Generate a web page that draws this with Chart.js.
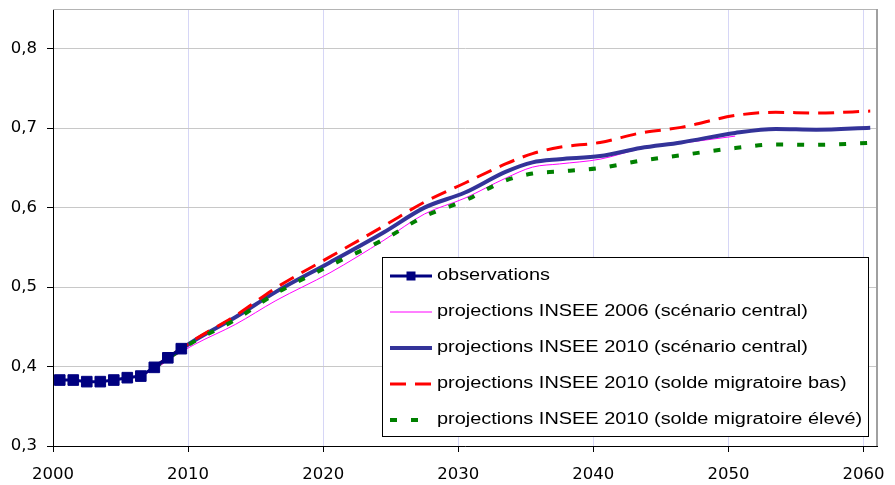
<!DOCTYPE html>
<html>
<head>
<meta charset="utf-8">
<script src="https://cdn.jsdelivr.net/npm/chart.js@4/dist/chart.umd.min.js"></script>
<style>
  html, body { margin: 0; padding: 0; background: #fff; }
  #wrap { width: 895px; height: 485px; position: relative; }
</style>
</head>
<body>
<div id="wrap"><canvas id="c"></canvas></div>
<script>
// Observed values, one per year
const obsYears  = [2000, 2001, 2002, 2003, 2004, 2005, 2006, 2007, 2008, 2009];
const obsValues = [0.383, 0.383, 0.381, 0.381, 0.383, 0.386, 0.388, 0.399, 0.411, 0.4225];

// INSEE 2006 projections (central scenario)
const insee2006Years  = [2005, 2007, 2008, 2010, 2013, 2016, 2020, 2024, 2027, 2030, 2033, 2035, 2037, 2040, 2043, 2046, 2050];
const insee2006Values = [0.384, 0.396, 0.408, 0.428, 0.453, 0.483, 0.518, 0.559, 0.592, 0.612, 0.637, 0.651, 0.655, 0.661, 0.674, 0.681, 0.690];

// INSEE 2010 projections
const insee2010Years         = [2007, 2010, 2013, 2016, 2020, 2024, 2027, 2030, 2033, 2035, 2037, 2040, 2043, 2046, 2050, 2053, 2056, 2060];
const insee2010Central       = [0.399, 0.433, 0.462, 0.494, 0.531, 0.569, 0.600, 0.619, 0.645, 0.657, 0.661, 0.665, 0.675, 0.682, 0.694, 0.699, 0.698, 0.7005];
const insee2010LowMigration  = [0.399, 0.434, 0.464, 0.499, 0.538, 0.577, 0.607, 0.631, 0.655, 0.668, 0.676, 0.682, 0.694, 0.701, 0.716, 0.720, 0.719, 0.7215];
const insee2010HighMigration = [0.399, 0.432, 0.459, 0.492, 0.527, 0.560, 0.589, 0.609, 0.634, 0.643, 0.6455, 0.650, 0.659, 0.666, 0.675, 0.6795, 0.679, 0.6815];

const seriesLabels = [
  'observations',
  'projections INSEE 2006 (scénario central)',
  'projections INSEE 2010 (scénario central)',
  'projections INSEE 2010 (solde migratoire bas)',
  'projections INSEE 2010 (solde migratoire élevé)'
];

const xTickYears  = [2000, 2010, 2020, 2030, 2040, 2050, 2060];
const yTickValues = [0.3, 0.4, 0.5, 0.6, 0.7, 0.8];
const yTickLabels = ['0,3', '0,4', '0,5', '0,6', '0,7', '0,8'];

// each yearly value sits in the middle of its year slot
const toPoints = (years, values) => years.map((yr, i) => ({ x: yr + 0.5, y: values[i] }));

// plot frame (top and right edges) and the boxed legend inside the plot
const framePlugin = {
  id: 'frameAndLegend',
  beforeDatasetsDraw(chart) {
    const { ctx, chartArea: a } = chart;
    ctx.save();
    ctx.strokeStyle = '#b4b4b4';
    ctx.lineWidth = 1;
    ctx.beginPath();
    ctx.moveTo(a.left, a.top + 0.5);
    ctx.lineTo(a.right, a.top + 0.5);
    ctx.stroke();
    ctx.strokeStyle = '#a0a0a0';
    ctx.lineWidth = 2;
    ctx.beginPath();
    ctx.moveTo(a.right, a.top);
    ctx.lineTo(a.right, a.bottom);
    ctx.stroke();
    ctx.restore();
  },
  afterDraw(chart) {
    const { ctx } = chart;
    const box = { x: 382.5, y: 257.5, w: 486, h: 179 };
    ctx.save();
    ctx.fillStyle = '#fff';
    ctx.fillRect(box.x, box.y, box.w, box.h);
    ctx.strokeStyle = '#000';
    ctx.lineWidth = 1;
    ctx.strokeRect(box.x, box.y, box.w, box.h);

    const rowH = 36, firstY = 276, symX0 = 390, symX1 = 432, textX = 437;
    chart.data.datasets.forEach((ds, i) => {
      const cy = firstY + i * rowH;
      ctx.save();
      ctx.strokeStyle = ds.borderColor;
      ctx.lineWidth = ds.borderWidth;
      ctx.setLineDash(ds.borderDash || []);
      ctx.lineCap = 'butt';
      ctx.beginPath();
      ctx.moveTo(symX0, cy);
      ctx.lineTo(symX1, cy);
      ctx.stroke();
      ctx.restore();
      if (ds.pointRadius > 0) {
        ctx.fillStyle = ds.pointBackgroundColor;
        ctx.fillRect((symX0 + symX1) / 2 - 4.5, cy - 4.5, 9, 9);
      }
      ctx.save();
      ctx.fillStyle = '#000';
      ctx.font = '16px "Liberation Sans", Arial, sans-serif';
      ctx.textBaseline = 'middle';
      ctx.textAlign = 'left';
      ctx.translate(textX, cy);
      ctx.scale(1.245, 1);
      ctx.fillText(ds.label, 0, 0);
      ctx.restore();
    });
    ctx.restore();
  }
};

new Chart(document.getElementById('c'), {
  type: 'line',
  data: {
    datasets: [
      {
        label: seriesLabels[0],
        data: toPoints(obsYears, obsValues),
        borderColor: '#000080',
        backgroundColor: '#000080',
        borderWidth: 3,
        pointStyle: 'rect',
        pointRadius: 7.5,
        pointBackgroundColor: '#000080',
        pointBorderColor: '#000080',
        pointBorderWidth: 1,
        tension: 0,
        order: 0
      },
      {
        label: seriesLabels[1],
        data: toPoints(insee2006Years, insee2006Values),
        borderColor: '#ff00ff',
        borderWidth: 1,
        pointRadius: 0,
        cubicInterpolationMode: 'monotone',
        order: 4
      },
      {
        label: seriesLabels[2],
        data: toPoints(insee2010Years, insee2010Central),
        borderColor: '#333399',
        borderWidth: 4,
        pointRadius: 0,
        cubicInterpolationMode: 'monotone',
        order: 3
      },
      {
        label: seriesLabels[3],
        data: toPoints(insee2010Years, insee2010LowMigration),
        borderColor: '#ff0000',
        borderWidth: 3,
        borderDash: [16, 9],
        pointRadius: 0,
        cubicInterpolationMode: 'monotone',
        order: 2
      },
      {
        label: seriesLabels[4],
        data: toPoints(insee2010Years, insee2010HighMigration),
        borderColor: '#008000',
        borderWidth: 4,
        borderDash: [7, 14],
        pointRadius: 0,
        cubicInterpolationMode: 'monotone',
        order: 1
      }
    ]
  },
  options: {
    responsive: true,
    maintainAspectRatio: false,
    devicePixelRatio: 1,
    animation: false,
    layout: { padding: { left: 0, top: 9, right: 18, bottom: 0 } },
    plugins: { legend: { display: false }, tooltip: { enabled: false } },
    scales: {
      x: {
        type: 'linear',
        min: 2000,
        max: 2061,
        afterBuildTicks: (scale) => { scale.ticks = xTickYears.map(v => ({ value: v })); },
        afterFit: (scale) => {
          scale.height = 39;
          scale.paddingLeft = 0;
          scale.paddingRight = 0;
        },
        grid: { color: '#d6d6f6', lineWidth: 1, tickLength: 6, tickColor: '#000', drawTicks: true },
        border: { color: '#000', width: 1 },
        ticks: {
          padding: 13,
          color: '#000',
          maxRotation: 0,
          autoSkip: false,
          font: { family: '"DejaVu Sans"', size: 16.5 },
          callback: (v) => String(v)
        }
      },
      y: {
        min: 0.3,
        max: 0.85,
        afterBuildTicks: (scale) => { scale.ticks = yTickValues.map(v => ({ value: v })); },
        afterFit: (scale) => {
          scale.width = 53;
          scale.paddingTop = 0;
          scale.paddingBottom = 0;
        },
        grid: { color: '#c8c8c8', lineWidth: 1, tickLength: 6, tickColor: '#000', drawTicks: true },
        border: { color: '#000', width: 1 },
        ticks: {
          padding: 10,
          color: '#000',
          autoSkip: false,
          font: { family: '"DejaVu Sans"', size: 16.5 },
          callback: (v) => yTickLabels[yTickValues.indexOf(v)]
        }
      }
    }
  },
  plugins: [framePlugin]
});
</script>
</body>
</html>
